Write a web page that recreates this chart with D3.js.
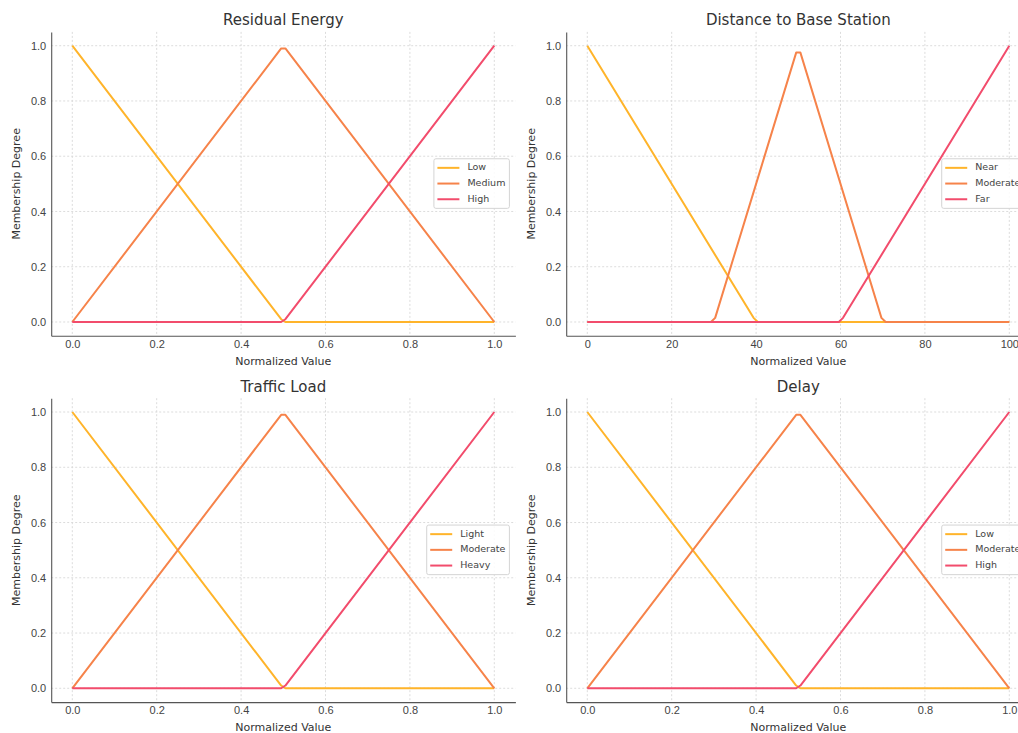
<!DOCTYPE html>
<html>
<head>
<meta charset="utf-8">
<script src="https://cdn.jsdelivr.net/npm/d3@7"></script>
<style>
    body { margin: 0; background: #fff; }
    svg { display: block; font-family: 'DejaVu Sans', sans-serif; }
    .tick text { fill: #444; font-size: 11px; }
    .domain { stroke: #555; stroke-width: 1.1px; }
</style>
</head>
<body>
<svg id="chart"></svg>
<script>
    const width = 1018;
    const height = 733;

    // panel titles and term names
    const titles = ["Residual Energy", "Distance to Base Station", "Traffic Load", "Delay"];
    const terms = [
        ["Low", "Medium", "High"],
        ["Near", "Moderate", "Far"],
        ["Light", "Moderate", "Heavy"],
        ["Low", "Moderate", "High"]
    ];
    const colors = ["#ffb42a", "#f6834a", "#f24c6c"];

    // tick labels
    const unitTicks = [0, 0.2, 0.4, 0.6, 0.8, 1.0];
    const distTicks = [0, 20, 40, 60, 80, 100];
    const yTicks = [0, 0.2, 0.4, 0.6, 0.8, 1.0];

    // breakpoints, normalized 0..1 panels
    const lowX = [0, 0.495, 0.505, 1];
    const lowY = [1, 0.01, 0, 0];
    const midX = [0, 0.495, 0.505, 1];
    const midY = [0, 0.99, 0.99, 0];
    const highX = [0, 0.495, 0.505, 1];
    const highY = [0, 0, 0.01, 1];

    // distance panel 0..100
    const nearX = [0, 39.4, 40.4, 100];
    const nearY = [1, 0.015, 0, 0];
    const modX = [0, 29.3, 30.3, 49.5, 50.5, 69.7, 70.7, 100];
    const modY = [0, 0, 0.015, 0.975, 0.975, 0.015, 0, 0];
    const farX = [0, 59.6, 60.6, 100];
    const farY = [0, 0, 0.015, 1];

    const unitSeries = [[lowX, lowY], [midX, midY], [highX, highY]];
    const distSeries = [[nearX, nearY], [modX, modY], [farX, farY]];

    const panels = [
        { left: 51.2, top: 31.9, xmax: 1, ticks: unitTicks, series: unitSeries, fmt: d3.format(".1f") },
        { left: 566.2, top: 31.9, xmax: 100, ticks: distTicks, series: distSeries, fmt: d3.format("d") },
        { left: 51.2, top: 398.2, xmax: 1, ticks: unitTicks, series: unitSeries, fmt: d3.format(".1f") },
        { left: 566.2, top: 398.2, xmax: 1, ticks: unitTicks, series: unitSeries, fmt: d3.format(".1f") }
    ];
    const pw = 464.2;
    const ph = 303.9;

    const svg = d3.select('#chart').attr('width', width).attr('height', height);

    panels.forEach((p, i) => {
        const pad = p.xmax * 0.05;
        const x = d3.scaleLinear().domain([-pad, p.xmax + pad]).range([p.left, p.left + pw]);
        const y = d3.scaleLinear().domain([-0.05, 1.05]).range([p.top + ph, p.top]);
        const g = svg.append('g');

        // grid
        g.selectAll('.vgrid').data(p.ticks).enter().append('line')
            .attr('x1', d => x(d)).attr('x2', d => x(d))
            .attr('y1', p.top).attr('y2', p.top + ph)
            .style('stroke', '#d8d8d8').style('stroke-width', '0.9px').style('stroke-dasharray', '2,2');
        g.selectAll('.hgrid').data(yTicks).enter().append('line')
            .attr('x1', p.left).attr('x2', p.left + pw)
            .attr('y1', d => y(d)).attr('y2', d => y(d))
            .style('stroke', '#d8d8d8').style('stroke-width', '0.9px').style('stroke-dasharray', '2,2');

        // axes
        g.append('g').attr('transform', `translate(0,${p.top + ph})`)
            .call(d3.axisBottom(x).tickValues(p.ticks).tickFormat(p.fmt).tickSize(0).tickSizeOuter(0).tickPadding(4));
        g.append('g').attr('transform', `translate(${p.left},0)`)
            .call(d3.axisLeft(y).tickValues(yTicks).tickFormat(d3.format(".1f")).tickSize(0).tickSizeOuter(0).tickPadding(5));

        // lines
        const line = d3.line().x(d => x(d[0])).y(d => y(d[1]));
        p.series.forEach((s, k) => {
            const pts = s[0].map((v, j) => [v, s[1][j]]);
            g.append('path').datum(pts)
                .attr('d', line)
                .style('fill', 'none')
                .style('stroke', colors[k])
                .style('stroke-width', '2px')
                .style('stroke-linejoin', 'round');
        });

        // labels
        g.append('text').text(titles[i])
            .attr('x', p.left + pw / 2).attr('y', p.top - 11)
            .attr('text-anchor', 'middle').attr('dominant-baseline', 'middle')
            .style('font-size', '15px').style('fill', '#333');
        g.append('text').text('Normalized Value')
            .attr('x', p.left + pw / 2).attr('y', p.top + ph + 26)
            .attr('text-anchor', 'middle').attr('dominant-baseline', 'middle')
            .style('font-size', '11px').style('fill', '#333');
        g.append('text').text('Membership Degree')
            .attr('transform', `translate(${p.left - 34.5},${p.top + ph / 2}) rotate(-90)`)
            .attr('text-anchor', 'middle').attr('dominant-baseline', 'middle')
            .style('font-size', '11px').style('fill', '#333');

        // legend, center right
        const lg = g.append('g');
        const box = lg.append('rect');
        let maxW = 0;
        terms[i].forEach((name, k) => {
            const cy = -15.7 + k * 15.7;
            lg.append('line').attr('x1', 3.5).attr('x2', 25.5).attr('y1', cy).attr('y2', cy)
                .style('stroke', colors[k]).style('stroke-width', '2px');
            const t = lg.append('text').text(name).attr('x', 33.5).attr('y', cy)
                .attr('dominant-baseline', 'middle')
                .style('font-size', '9.5px').style('fill', '#444');
            maxW = Math.max(maxW, t.node().getComputedTextLength());
        });
        const bw = 33.5 + maxW + 4;
        box.attr('x', 0).attr('y', -24.8).attr('width', bw).attr('height', 49.6)
            .attr('rx', 2)
            .style('fill', 'rgba(255,255,255,0.85)').style('stroke', '#d4d4d4').style('stroke-width', '1px');
        lg.attr('transform', `translate(${p.left + pw - 6 - bw},${p.top + ph / 2 - 0.3})`);
    });
</script>
</body>
</html>
